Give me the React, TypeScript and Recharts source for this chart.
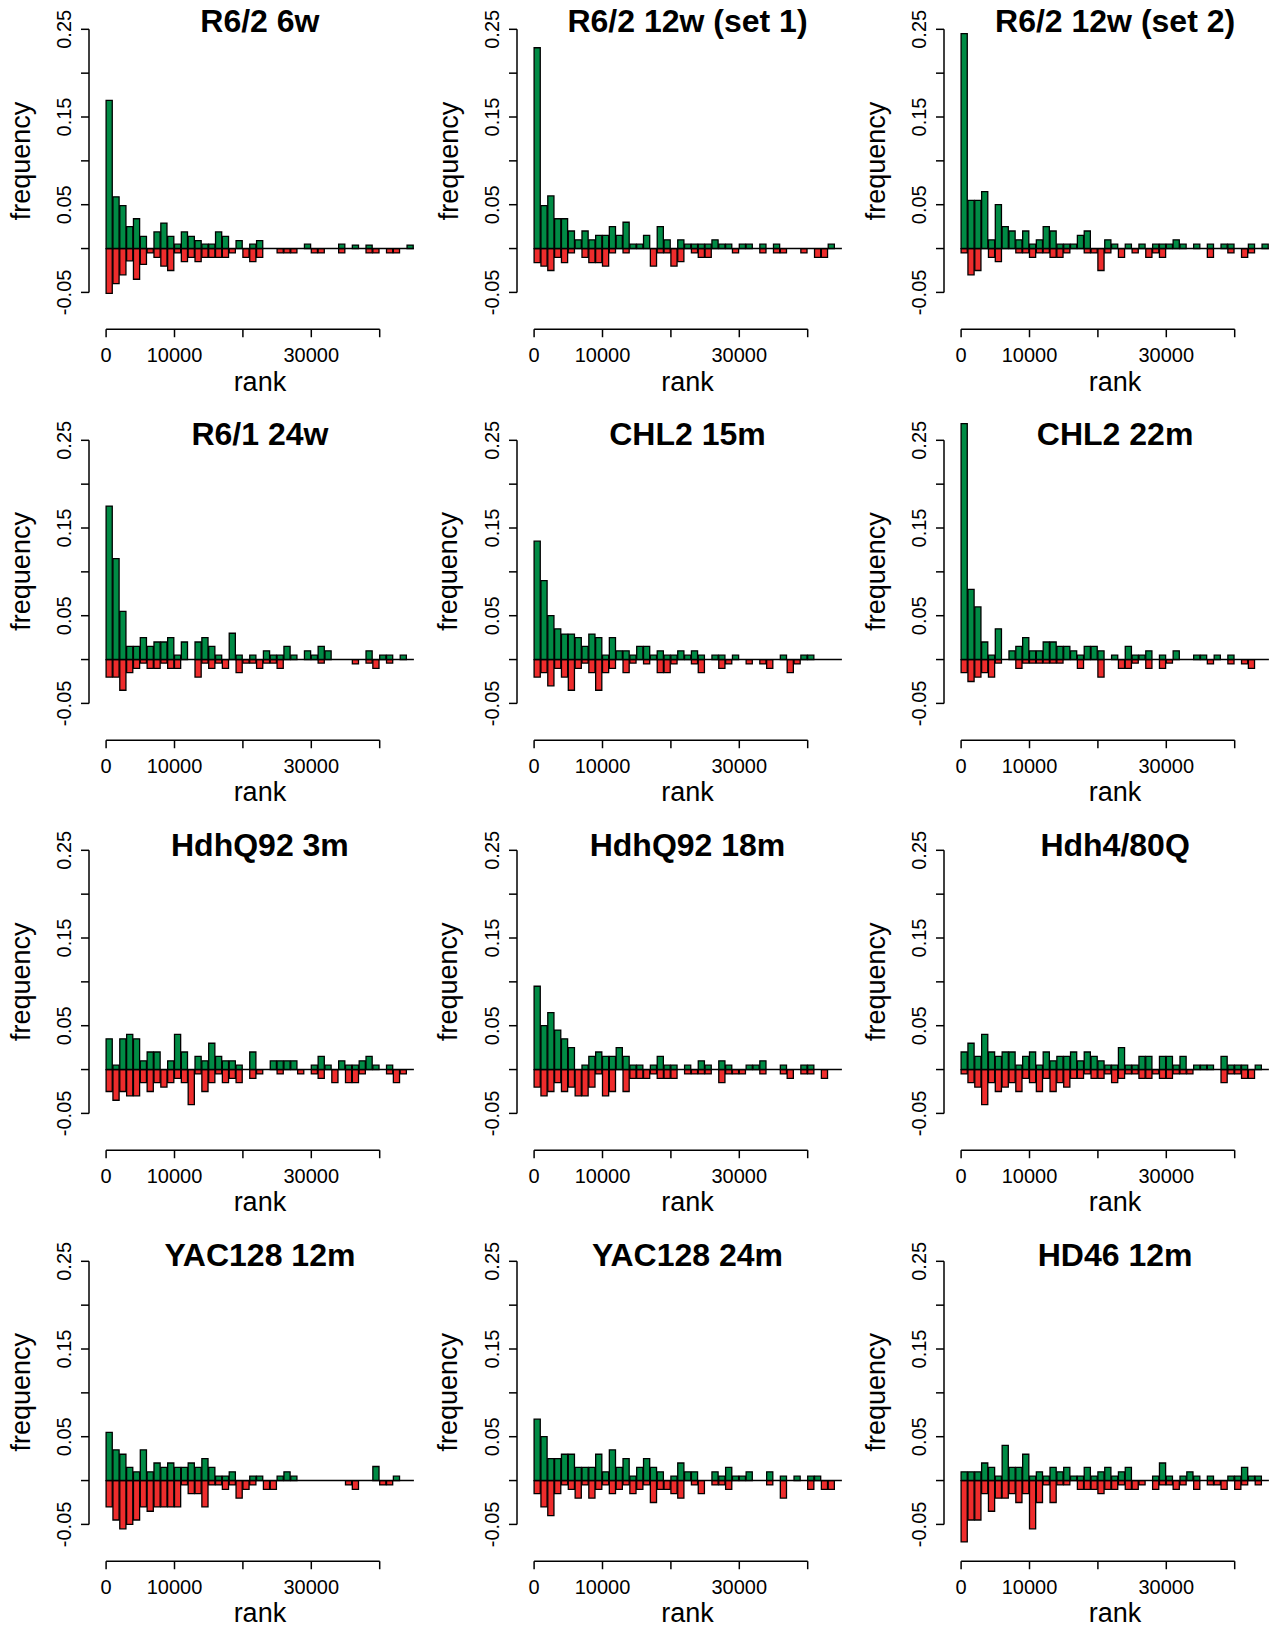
import React from 'react';
import { BarChart, Bar, XAxis, YAxis, ReferenceLine } from 'recharts';

// ---------- data ----------
const RANK_BINS = [
  500, 1500, 2500, 3500, 4500, 5500, 6500, 7500, 8500, 9500,
  10500, 11500, 12500, 13500, 14500, 15500, 16500, 17500, 18500, 19500,
  20500, 21500, 22500, 23500, 24500, 25500, 26500, 27500, 28500, 29500,
  30500, 31500, 32500, 33500, 34500, 35500, 36500, 37500, 38500, 39500,
  40500, 41500, 42500, 43500, 44500,
];

const X_TICKS = [0, 10000, 20000, 30000, 40000];
const X_TICK_LABELS = ['0', '10000', '', '30000', ''];
const Y_TICKS = [-0.05, 0, 0.05, 0.1, 0.15, 0.2, 0.25];
const Y_TICK_LABELS = ['-0.05', '', '0.05', '', '0.15', '', '0.25'];

const TITLES = [
  'R6/2 6w', 'R6/2 12w (set 1)', 'R6/2 12w (set 2)',
  'R6/1 24w', 'CHL2 15m', 'CHL2 22m',
  'HdhQ92 3m', 'HdhQ92 18m', 'Hdh4/80Q',
  'YAC128 12m', 'YAC128 24m', 'HD46 12m',
];

const R62_6W_UP = [0.169,0.059,0.049,0.025,0.034,0.014,0,0.019,0.029,0.014, 0.005,0.019,0.014,0.009,0.005,0.005,0.019,0.014,0,0.009, 0,0.005,0.009,0,0,0,0,0,0,0.005, 0,0,0,0,0.005,0,0.004,0,0.004,0, 0,0,0,0,0.004];
const R62_6W_DOWN = [-0.051,-0.040,-0.030,-0.014,-0.035,-0.018,-0.005,-0.010,-0.020,-0.025, -0.005,-0.015,-0.010,-0.015,-0.010,-0.010,-0.010,-0.010,-0.005,0, -0.010,-0.015,-0.010,0,0,-0.005,-0.005,-0.005,0,0, -0.005,-0.005,0,0,-0.005,0,0,0,-0.005,-0.005, 0,-0.005,-0.005,0,0];

const R62_12W_S1_UP = [0.229,0.049,0.060,0.034,0.034,0.020,0.010,0.020,0.010,0.015, 0.015,0.025,0.015,0.030,0.005,0.005,0.015,0,0.025,0.010, 0,0.010,0.005,0.005,0.005,0.005,0.010,0.005,0.005,0, 0.005,0.005,0,0.005,0,0.005,0,0,0,0, 0,0,0,0.005,0];
const R62_12W_S1_DOWN = [-0.016,-0.020,-0.025,-0.010,-0.016,-0.005,0,-0.010,-0.016,-0.016, -0.020,-0.005,0,-0.005,0,0,0,-0.020,-0.005,-0.005, -0.020,-0.015,0,-0.005,-0.010,-0.010,0,0,0,-0.005, 0,0,0,-0.005,0,-0.005,-0.005,0,0,-0.005, 0,-0.010,-0.010,0,0];

const R62_12W_S2_UP = [0.245,0.055,0.055,0.065,0.010,0.050,0.025,0.020,0.010,0.020, 0.005,0.010,0.025,0.020,0.005,0.005,0.005,0.015,0.020,0, 0,0.010,0.005,0,0.005,0,0.005,0,0.005,0.005, 0.005,0.010,0.005,0,0.005,0,0.005,0,0.005,0.005, 0,0,0.005,0,0.005];
const R62_12W_S2_DOWN = [-0.005,-0.030,-0.025,0,-0.010,-0.015,0,0,-0.005,-0.005, -0.010,-0.005,-0.005,-0.010,-0.010,-0.005,0,0,-0.005,-0.005, -0.025,-0.005,0,-0.010,0,-0.005,0,-0.010,-0.005,-0.010, 0,0,0,0,0,0,-0.010,0,0,-0.005, 0,-0.010,-0.005,0,0];

const R61_24W_UP = [0.175,0.115,0.055,0.015,0.015,0.025,0.015,0.020,0.020,0.025, 0.005,0.020,0,0.020,0.025,0.015,0.005,0,0.030,0.005, 0,0.005,0,0.010,0.005,0.005,0.015,0.005,0,0.010, 0.005,0.015,0.010,0,0,0,0,0,0.010,0, 0.005,0.005,0,0.005,0];
const R61_24W_DOWN = [-0.020,-0.020,-0.035,-0.015,-0.010,-0.004,-0.010,-0.010,-0.004,-0.010, -0.010,0,0,-0.020,-0.004,-0.010,-0.004,-0.010,0,-0.015, -0.004,-0.004,-0.010,-0.004,-0.004,-0.010,0,0,0,0, 0,-0.004,0,0,0,0,-0.005,0,-0.004,-0.010, 0,-0.004,0,0,0];

const CHL2_15M_UP = [0.135,0.090,0.050,0.035,0.029,0.029,0.025,0.015,0.029,0.025, 0.005,0.025,0.010,0.010,0.005,0.015,0.015,0.005,0.010,0.005, 0.005,0.010,0.005,0.010,0.005,0,0.005,0.005,0,0.005, 0,0,0,0,0,0,0.005,0,0,0.005, 0.005,0,0,0,0];
const CHL2_15M_DOWN = [-0.020,-0.015,-0.030,-0.010,-0.020,-0.035,-0.010,-0.004,-0.015,-0.035, -0.015,-0.010,0,-0.015,-0.004,0,-0.005,0,-0.015,-0.015, -0.005,0,0,-0.005,-0.015,0,0,-0.010,-0.005,0, 0,-0.005,0,-0.005,-0.010,0,0,-0.015,-0.005,0, 0,0,0,0,0];

const CHL2_22M_UP = [0.269,0.080,0.060,0.020,0.005,0.035,0,0.010,0.015,0.025, 0.010,0.010,0.020,0.020,0.015,0.015,0.010,0.005,0.015,0.015, 0.010,0,0.005,0,0.015,0.005,0.005,0.010,0,0.005, 0,0.010,0,0,0.005,0.005,0,0.005,0,0.005, 0,0,0,0,0];
const CHL2_22M_DOWN = [-0.015,-0.025,-0.020,-0.015,-0.020,-0.004,0,0,-0.010,-0.004, -0.004,-0.004,-0.004,-0.004,-0.004,0,0,-0.010,0,0, -0.020,0,0,-0.010,-0.010,-0.004,0,-0.010,0,-0.010, -0.004,0,0,0,0,0,-0.005,0,0,-0.005, 0,-0.005,-0.010,0,0];

const HDHQ92_3M_UP = [0.035,0.005,0.035,0.040,0.035,0.010,0.020,0.020,0,0.010, 0.040,0.020,0,0.015,0.010,0.030,0.015,0.010,0.010,0.005, 0,0.020,0,0,0.010,0.010,0.010,0.010,0,0, 0.005,0.015,0.005,0,0.010,0.005,0.005,0.010,0.015,0.005, 0,0.005,0,0,0];
const HDHQ92_3M_DOWN = [-0.025,-0.035,-0.025,-0.030,-0.030,-0.015,-0.025,-0.015,-0.020,-0.015, -0.010,-0.015,-0.040,-0.005,-0.025,-0.015,-0.005,-0.015,-0.010,-0.015, 0,-0.010,-0.005,0,0,-0.005,0,0,-0.005,0, -0.005,-0.010,0,-0.015,0,-0.015,-0.015,-0.005,0,0, 0,-0.005,-0.015,-0.005,0];

const HDHQ92_18M_UP = [0.095,0.050,0.065,0.045,0.035,0.025,0,0.005,0.015,0.020, 0.015,0.015,0.025,0.015,0.005,0.005,0,0.005,0.015,0.005, 0.005,0,0.005,0,0.010,0.005,0,0.010,0.005,0, 0,0.005,0.005,0.010,0,0,0.005,0,0,0.005, 0.005,0,0,0,0];
const HDHQ92_18M_DOWN = [-0.020,-0.030,-0.025,-0.015,-0.025,-0.020,-0.030,-0.030,-0.020,-0.005, -0.030,-0.025,0,-0.025,-0.010,-0.010,-0.010,-0.005,-0.010,-0.010, -0.010,0,-0.005,-0.005,-0.005,-0.005,0,-0.015,-0.005,-0.005, -0.005,0,0,-0.005,0,0,-0.005,-0.010,0,-0.005, -0.005,0,-0.010,0,0];

const HDH4_80Q_UP = [0.020,0.030,0.015,0.040,0.020,0.015,0.020,0.020,0.005,0.015, 0.020,0.005,0.020,0.010,0.015,0.015,0.020,0.010,0.020,0.015, 0.010,0.005,0.005,0.025,0.005,0.005,0.015,0.015,0,0.015, 0.015,0.005,0.015,0,0.005,0.005,0.005,0,0.015,0.005, 0.005,0.005,0,0.005,0];
const HDH4_80Q_DOWN = [-0.005,-0.015,-0.020,-0.040,-0.015,-0.025,-0.020,-0.015,-0.025,-0.010, -0.015,-0.025,-0.010,-0.025,-0.015,-0.020,-0.010,-0.010,-0.005,-0.010, -0.010,-0.005,-0.015,-0.010,-0.005,-0.005,-0.010,-0.010,-0.005,-0.010, -0.010,-0.005,-0.005,-0.005,0,0,0,0,-0.015,-0.005, -0.005,-0.010,-0.010,0,0];

const YAC128_12M_UP = [0.055,0.035,0.030,0.015,0.010,0.035,0.010,0.020,0.015,0.020, 0.015,0.015,0.020,0.015,0.025,0.015,0.005,0.005,0.010,0, 0,0.005,0.005,0,0,0.005,0.010,0.005,0,0, 0,0,0,0,0,0,0,0,0,0.016, 0,0,0.005,0,0];
const YAC128_12M_DOWN = [-0.030,-0.045,-0.055,-0.050,-0.045,-0.030,-0.035,-0.030,-0.030,-0.030, -0.030,-0.005,-0.015,-0.015,-0.030,-0.005,-0.005,-0.010,-0.005,-0.020, -0.010,-0.005,0,-0.010,-0.010,0,0,0,0,0, 0,0,0,0,0,-0.005,-0.010,0,0,0, -0.005,-0.005,0,0,0];

const YAC128_24M_UP = [0.070,0.050,0.025,0.025,0.030,0.030,0.015,0.015,0.015,0.030, 0.010,0.035,0.015,0.025,0.005,0.015,0.025,0.015,0.010,0, 0.005,0.020,0.010,0.010,0,0,0.010,0.005,0.015,0.005, 0.005,0.010,0,0,0.010,0,0.005,0,0.005,0, 0.005,0.005,0,0,0];
const YAC128_24M_DOWN = [-0.015,-0.030,-0.040,-0.015,-0.005,-0.010,-0.020,-0.005,-0.020,-0.010, -0.005,-0.015,-0.010,-0.005,-0.015,-0.010,-0.005,-0.025,-0.010,-0.010, -0.015,-0.020,0,-0.005,-0.015,0,-0.005,-0.005,-0.010,0, 0,0,0,0,-0.005,0,-0.020,0,0,0, -0.010,0,-0.010,-0.010,0];

const HD46_12M_UP = [0.010,0.010,0.010,0.020,0.015,0.005,0.040,0.015,0.015,0.030, 0.005,0.010,0.005,0.015,0.010,0.015,0.005,0.005,0.015,0.005, 0.010,0.015,0.005,0.010,0.015,0,0,0,0.005,0.020, 0.005,0,0.005,0.010,0.005,0,0.005,0,0,0.005, 0.005,0.015,0.005,0.005,0];
const HD46_12M_DOWN = [-0.070,-0.045,-0.045,-0.015,-0.035,-0.020,-0.020,-0.015,-0.025,-0.015, -0.055,-0.025,-0.005,-0.025,-0.005,-0.005,0,-0.010,-0.010,-0.010, -0.015,-0.010,-0.010,-0.005,-0.010,-0.010,-0.005,0,-0.010,-0.005, -0.005,-0.010,-0.005,0,-0.010,0,-0.005,-0.005,-0.010,0, -0.010,-0.005,0,-0.005,0];

const UP_SERIES = [
  R62_6W_UP, R62_12W_S1_UP, R62_12W_S2_UP,
  R61_24W_UP, CHL2_15M_UP, CHL2_22M_UP,
  HDHQ92_3M_UP, HDHQ92_18M_UP, HDH4_80Q_UP,
  YAC128_12M_UP, YAC128_24M_UP, HD46_12M_UP,
];
const DOWN_SERIES = [
  R62_6W_DOWN, R62_12W_S1_DOWN, R62_12W_S2_DOWN,
  R61_24W_DOWN, CHL2_15M_DOWN, CHL2_22M_DOWN,
  HDHQ92_3M_DOWN, HDHQ92_18M_DOWN, HDH4_80Q_DOWN,
  YAC128_12M_DOWN, YAC128_24M_DOWN, HD46_12M_DOWN,
];

// ---------- layout ----------
const FONT = '"Liberation Sans", Arial, Helvetica, sans-serif';
const PX_PER_RANK = 0.00684;
const PX_PER_FREQ = 877;
const COL_ZERO_X = [106, 533.6, 961.2];
const ROW_BASE_Y = [249, 659.4, 1069.8, 1480.2];
const TITLE_DY = [-217, -214, -214, -214];
const XMIN = -2500;
const XMAX = 47500;
const YMIN = -0.092;
const YMAX = 0.28;
const YAXIS_W = 70;
const XAXIS_H = 70;
const M_TOP = 5;
const M_RIGHT = 5;
const PLOT_W = (XMAX - XMIN) * PX_PER_RANK;
const PLOT_H = (YMAX - YMIN) * PX_PER_FREQ;
const TICK = 8;
const GREEN = '#008B45';
const RED = '#EE2C2C';

const XTick = (props: any) => {
  const { x, y, payload } = props;
  const idx = X_TICKS.indexOf(payload.value);
  const label = idx >= 0 ? X_TICK_LABELS[idx] : '';
  if (!label) return <g />;
  return (
    <text x={x} y={y + 24.5} textAnchor="middle" fontSize={20} fontFamily={FONT} fill="#000">
      {label}
    </text>
  );
};

const YTick = (props: any) => {
  const { x, y, payload } = props;
  let idx = -1;
  Y_TICKS.forEach((t, i) => { if (Math.abs(t - payload.value) < 1e-9) idx = i; });
  const label = idx >= 0 ? Y_TICK_LABELS[idx] : '';
  if (!label) return <g />;
  const x0 = x - 9.8;
  return (
    <text x={x0} y={y} transform={`rotate(-90 ${x0} ${y})`} textAnchor="middle" fontSize={20} fontFamily={FONT} fill="#000">
      {label}
    </text>
  );
};

const Panel = ({ index }: { index: number }) => {
  const r = Math.floor(index / 3);
  const c = index % 3;
  const up = UP_SERIES[index];
  const down = DOWN_SERIES[index];
  const rows = RANK_BINS.map((rank, i) => ({ rank, up: up[i], down: down[i] }));
  const plotLeft = COL_ZERO_X[c] + XMIN * PX_PER_RANK;
  const plotTop = ROW_BASE_Y[r] - YMAX * PX_PER_FREQ;
  const left = plotLeft - YAXIS_W;
  const top = plotTop - M_TOP;
  const width = YAXIS_W + PLOT_W + M_RIGHT;
  const height = M_TOP + PLOT_H + XAXIS_H;
  const barW = 1000 * PX_PER_RANK;
  return (
    <div style={{ position: 'absolute', left, top }}>
      <BarChart
        width={width}
        height={height}
        data={rows}
        stackOffset="sign"
        barCategoryGap={0}
        barGap={0}
        margin={{ top: M_TOP, right: M_RIGHT, bottom: 0, left: 0 }}
      >
        <XAxis
          type="number"
          dataKey="rank"
          domain={[XMIN, XMAX]}
          allowDataOverflow
          ticks={X_TICKS}
          interval={0}
          height={XAXIS_H}
          axisLine={false}
          tickLine={{ stroke: '#000', strokeWidth: 1.5 }}
          tickSize={TICK}
          tickMargin={0}
          tick={<XTick />}
        />
        <YAxis
          type="number"
          domain={[YMIN, YMAX]}
          allowDataOverflow
          ticks={Y_TICKS}
          interval={0}
          width={YAXIS_W}
          axisLine={false}
          tickLine={{ stroke: '#000', strokeWidth: 1.5 }}
          tickSize={TICK}
          tickMargin={0}
          tick={<YTick />}
        />
        <Bar dataKey="up" stackId="s" fill={GREEN} stroke="#000" strokeWidth={1.3} barSize={barW} isAnimationActive={false} />
        <Bar dataKey="down" stackId="s" fill={RED} stroke="#000" strokeWidth={1.3} barSize={barW} isAnimationActive={false} />
        <ReferenceLine
          segment={[{ x: 0, y: 0 }, { x: 45000, y: 0 }]}
          stroke="#000"
          strokeWidth={1.5}
          ifOverflow="visible"
        />
        <ReferenceLine
          segment={[{ x: 0, y: YMIN }, { x: 40000, y: YMIN }]}
          stroke="#000"
          strokeWidth={1.5}
          ifOverflow="visible"
        />
        <ReferenceLine
          segment={[{ x: XMIN, y: -0.05 }, { x: XMIN, y: 0.25 }]}
          stroke="#000"
          strokeWidth={1.5}
          ifOverflow="visible"
        />
      </BarChart>
    </div>
  );
};

const Labels = () => {
  const items: React.ReactNode[] = [];
  TITLES.forEach((title, index) => {
    const r = Math.floor(index / 3);
    const c = index % 3;
    const plotLeft = COL_ZERO_X[c] + XMIN * PX_PER_RANK;
    const cx = plotLeft + PLOT_W / 2;
    const base = ROW_BASE_Y[r];
    const plotBottom = base - YMIN * PX_PER_FREQ;
    const fx = plotLeft - 59;
    const fy = base - 88;
    items.push(
      <g key={title}>
        <text x={cx} y={base + TITLE_DY[r]} textAnchor="middle" fontSize={32} fontWeight="bold" fontFamily={FONT} fill="#000">
          {title}
        </text>
        <text x={cx} y={plotBottom + 61} textAnchor="middle" fontSize={27} fontFamily={FONT} fill="#000">
          rank
        </text>
        <text x={fx} y={fy} transform={`rotate(-90 ${fx} ${fy})`} textAnchor="middle" fontSize={27} fontFamily={FONT} fill="#000">
          frequency
        </text>
      </g>
    );
  });
  return (
    <svg width={1274} height={1625} style={{ position: 'absolute', left: 0, top: 0, pointerEvents: 'none' }}>
      {items}
    </svg>
  );
};

export default function App() {
  return (
    <div style={{ position: 'absolute', left: 0, top: 0, width: 1274, height: 1625, overflow: 'hidden', background: '#fff' }}>
      {TITLES.map((t, i) => (
        <Panel key={t} index={i} />
      ))}
      <Labels />
    </div>
  );
}
